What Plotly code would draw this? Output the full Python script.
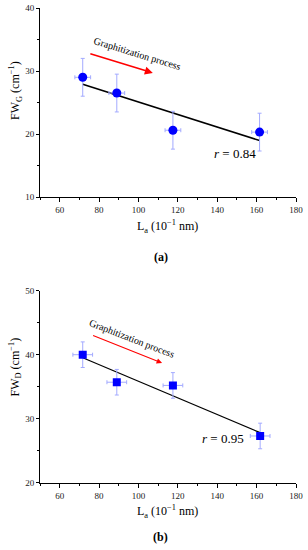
import numpy as np
import plotly.graph_objects as go

# ---- data ----
La = [71.7, 89.0, 117.5, 161.5]
La_err = [4, 4, 4, 4]
FWG = [29.0, 26.5, 20.6, 20.3]
FWG_err = [3, 3, 3, 3]
La_b = [71.7, 89.0, 117.5, 161.8]
La_b_err = [5, 5, 5, 5]
FWD = [40.0, 35.7, 35.2, 27.3]
FWD_err = [2, 2, 2, 2]
x_ticks = [60, 80, 100, 120, 140, 160, 180]
r_top = "0.84"
r_bot = "0.95"

W, H = 308, 550
FONT = "Liberation Serif"
BLUE = "#0000FF"
EBAR = "#a3aaff"

def px(x):
    return x / W

def py(y):
    return 1 - y / H

fig = go.Figure()

def fit(xs, ys):
    m, b = np.polyfit(xs, ys, 1)
    xe = [min(xs), max(xs)]
    return xe, [m * v + b for v in xe]

# top panel
fx, fy = fit(La, FWG)
fig.add_trace(go.Scatter(x=fx, y=fy, mode="lines", line=dict(color="black", width=1.6),
                         xaxis="x", yaxis="y", showlegend=False, hoverinfo="skip"))
fig.add_trace(go.Scatter(x=La, y=FWG, mode="markers",
                         marker=dict(symbol="circle", size=9, color=BLUE),
                         error_x=dict(type="data", array=La_err, color=EBAR, thickness=1, width=2),
                         error_y=dict(type="data", array=FWG_err, color=EBAR, thickness=1, width=2),
                         xaxis="x", yaxis="y", showlegend=False))

# bottom panel
fx2, fy2 = fit(La_b, FWD)
fig.add_trace(go.Scatter(x=fx2, y=fy2, mode="lines", line=dict(color="black", width=1.2),
                         xaxis="x2", yaxis="y2", showlegend=False, hoverinfo="skip"))
fig.add_trace(go.Scatter(x=La_b, y=FWD, mode="markers",
                         marker=dict(symbol="square", size=8, color=BLUE),
                         error_x=dict(type="data", array=La_b_err, color=EBAR, thickness=1, width=2),
                         error_y=dict(type="data", array=FWD_err, color=EBAR, thickness=1, width=2),
                         xaxis="x2", yaxis="y2", showlegend=False))

tickfont = dict(family=FONT, size=9, color="#222")
common_x = dict(range=[50, 180], tickvals=x_ticks, ticks="outside", ticklen=4, tickwidth=1,
                tickcolor="black", showline=True, linecolor="black", linewidth=1,
                showgrid=False, zeroline=False, tickfont=tickfont, automargin=False,
                minor=dict(ticks="outside", dtick=10, tick0=50, ticklen=2, tickcolor="black", showgrid=False),
                domain=[px(40), px(296)])
common_y = dict(ticks="outside", ticklen=3, tickwidth=1, tickcolor="black", showline=True,
                linecolor="black", linewidth=1, showgrid=False, zeroline=False, tickfont=tickfont,
                automargin=False, dtick=10,
                minor=dict(ticks="outside", dtick=5, ticklen=2, tickcolor="black", showgrid=False))

fig.update_layout(
    template="simple_white",
    width=W, height=H, margin=dict(l=0, r=0, t=0, b=0, pad=0), autosize=False,
    paper_bgcolor="white", plot_bgcolor="white",
    xaxis=dict(anchor="y", **common_x),
    yaxis=dict(anchor="x", range=[10, 40], tick0=10, domain=[py(197), py(8)], **common_y),
    xaxis2=dict(anchor="y2", **common_x),
    yaxis2=dict(anchor="x2", range=[20, 50], tick0=20, domain=[py(482.7), py(290.7)], **common_y),
)

tf = dict(family=FONT, size=12, color="black")
C = dict(xanchor="center", yanchor="middle", showarrow=False)
ann = []
# axis titles
ann.append(dict(text="FW<sub>G</sub> (cm<sup>−1</sup>)", x=px(15), y=py(91), xref="paper", yref="paper",
                textangle=-90, font=tf, **C))
ann.append(dict(text="FW<sub>D</sub> (cm<sup>−1</sup>)", x=px(15), y=py(367.5), xref="paper", yref="paper",
                textangle=-90, font=tf, **C))
ann.append(dict(text="L<sub>a</sub> (10<sup>−1</sup> nm)", x=px(167), y=py(226), xref="paper", yref="paper",
                font=tf, **C))
ann.append(dict(text="L<sub>a</sub> (10<sup>−1</sup> nm)", x=px(167), y=py(511), xref="paper", yref="paper",
                font=tf, **C))
ann.append(dict(text="<b>(a)</b>", x=px(161), y=py(257), xref="paper", yref="paper",
                font=dict(family=FONT, size=12, color="black"), **C))
ann.append(dict(text="<b>(b)</b>", x=px(160.5), y=py(537), xref="paper", yref="paper",
                font=dict(family=FONT, size=12, color="black"), **C))
# r labels
ann.append(dict(text=f"<i>r</i> = {r_top}", x=149.2, y=16.9, xref="x", yref="y",
                font=dict(family=FONT, size=13, color="black"), **C))
ann.append(dict(text=f"<i>r</i> = {r_bot}", x=142.9, y=26.9, xref="x2", yref="y2",
                font=dict(family=FONT, size=13, color="black"), **C))
# graphitization texts
ann.append(dict(text="Graphitization process", x=99.2, y=32.7, xref="x", yref="y",
                textangle=17, font=dict(family=FONT, size=10, color="black"), **C))
ann.append(dict(text="Graphitization process", x=96.8, y=42.6, xref="x2", yref="y2",
                textangle=21, font=dict(family=FONT, size=10, color="black"), **C))
# arrows
ann.append(dict(text="", x=107.3, y=29.7, ax=74.8, ay=32.8, xref="x", yref="y", axref="x", ayref="y",
                showarrow=True, arrowhead=2, arrowsize=1, arrowwidth=1.6, arrowcolor="red", standoff=0))
ann.append(dict(text="", x=112.0, y=38.7, ax=76.2, ay=43.1, xref="x2", yref="y2", axref="x2", ayref="y2",
                showarrow=True, arrowhead=2, arrowsize=1, arrowwidth=1.1, arrowcolor="red", standoff=0))
fig.update_layout(annotations=ann)

fig.write_html("out.html", config={"displayModeBar": False},
               post_script="document.body.style.margin='0';")
